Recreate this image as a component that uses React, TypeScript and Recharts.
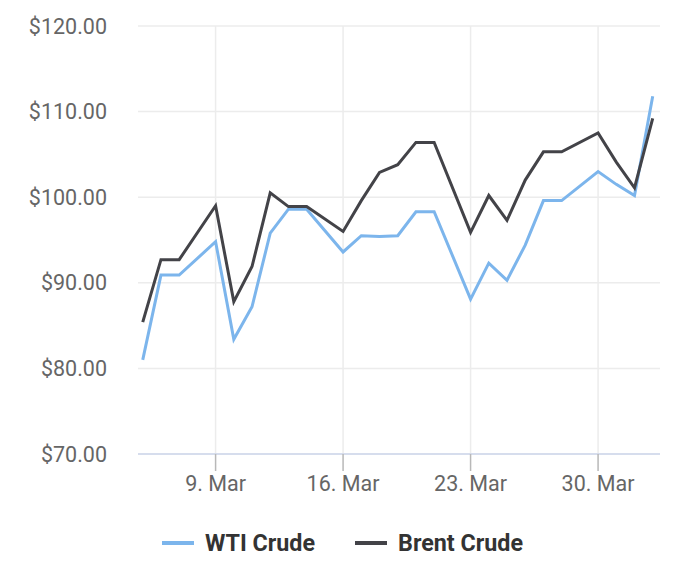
// App.tsx – WTI vs Brent crude prices, March

import { LineChart, Line, XAxis, YAxis, CartesianGrid, Legend, ReferenceLine } from "recharts";

// day of month (March; 32/33 = 1./2. Apr), trading days only
const days = [5, 6, 7, 9, 10, 11, 12, 13, 14, 16, 17, 18, 19, 20, 21, 23, 24, 25, 26, 27, 28, 30, 31, 32, 33];

const wti = [
  81.0, 90.9, 90.9, 94.8, 83.4, 87.2, 95.8, 98.6, 98.6, 93.6, 95.5, 95.4, 95.5,
  98.3, 98.3, 88.1, 92.3, 90.3, 94.4, 99.6, 99.6, 103.0, 101.5, 100.2, 111.8,
];

const brent = [
  85.4, 92.7, 92.7, 99.0, 87.8, 91.9, 100.5, 98.9, 98.9, 96.0, 99.6, 102.9, 103.8,
  106.4, 106.4, 95.9, 100.2, 97.3, 102.0, 105.3, 105.3, 107.5, 104.1, 101.1, 109.2,
];

const xTicks = [9, 16, 23, 30];
const xTickLabels = ["9. Mar", "16. Mar", "23. Mar", "30. Mar"];
const yTicks = [70, 80, 90, 100, 110, 120];

const seriesNames = ["WTI Crude", "Brent Crude"];
const seriesColors = ["#7cb5ec", "#434348"];

const data = days.map((d, i) => ({ day: d, wti: wti[i], brent: brent[i] }));

const font = "Roboto, 'Noto Sans', sans-serif";
const gridColor = "#ececec";

// legend drawn in Highcharts style: short line + bold label
function ChartLegend() {
  return (
    <div
      style={{
        height: 66,
        display: "flex",
        justifyContent: "center",
        alignItems: "center",
        paddingTop: 12,
        paddingLeft: 25,
        boxSizing: "border-box",
        fontFamily: font,
      }}
    >
      {seriesNames.map((name, i) => (
        <div key={name} style={{ display: "flex", alignItems: "center", margin: "0 20px" }}>
          <span
            style={{
              display: "inline-block",
              width: 32,
              height: 4,
              background: seriesColors[i],
              marginRight: 11,
            }}
          />
          <span style={{ fontSize: 23.3, fontWeight: 700, color: "#333333" }}>{name}</span>
        </div>
      ))}
    </div>
  );
}

export default function App() {
  return (
    <div style={{ width: 700, height: 578, background: "#fff" }}>
      <style>{`body { margin: 0; }`}</style>
      <LineChart
        width={700}
        height={578}
        data={data}
        margin={{ top: 26, right: 40, left: 0, bottom: 8 }}
      >
        <CartesianGrid stroke={gridColor} strokeWidth={1.5} vertical={false} />
        {/* vertical grid only at the date ticks */}
        {xTicks.map((t) => (
          <ReferenceLine key={t} x={t} stroke={gridColor} strokeWidth={1.5} />
        ))}
        <XAxis
          dataKey="day"
          type="number"
          domain={[4.74, 33.4]}
          ticks={xTicks}
          tickFormatter={(v) => xTickLabels[xTicks.indexOf(v)] ?? ""}
          height={50}
          stroke="#ccd6eb"
          strokeWidth={1.5}
          tickLine={{ stroke: "#b8b8b8", strokeWidth: 1.5 }}
          tickSize={17}
          tickMargin={5}
          tick={{ fill: "#666666", fontSize: 21.5, fontFamily: font }}
        />
        <YAxis
          domain={[70, 120]}
          ticks={yTicks}
          tickFormatter={(v) => `$${v.toFixed(2)}`}
          width={138}
          axisLine={false}
          tickLine={false}
          tickSize={0}
          tickMargin={31}
          tick={{ fill: "#666666", fontSize: 21.5, fontFamily: font }}
        />
        <Legend verticalAlign="bottom" content={() => <ChartLegend />} />
        <Line
          type="linear"
          dataKey="wti"
          name={seriesNames[0]}
          stroke={seriesColors[0]}
          strokeWidth={3}
          dot={false}
          isAnimationActive={false}
        />
        <Line
          type="linear"
          dataKey="brent"
          name={seriesNames[1]}
          stroke={seriesColors[1]}
          strokeWidth={3}
          dot={false}
          isAnimationActive={false}
        />
      </LineChart>
    </div>
  );
}
